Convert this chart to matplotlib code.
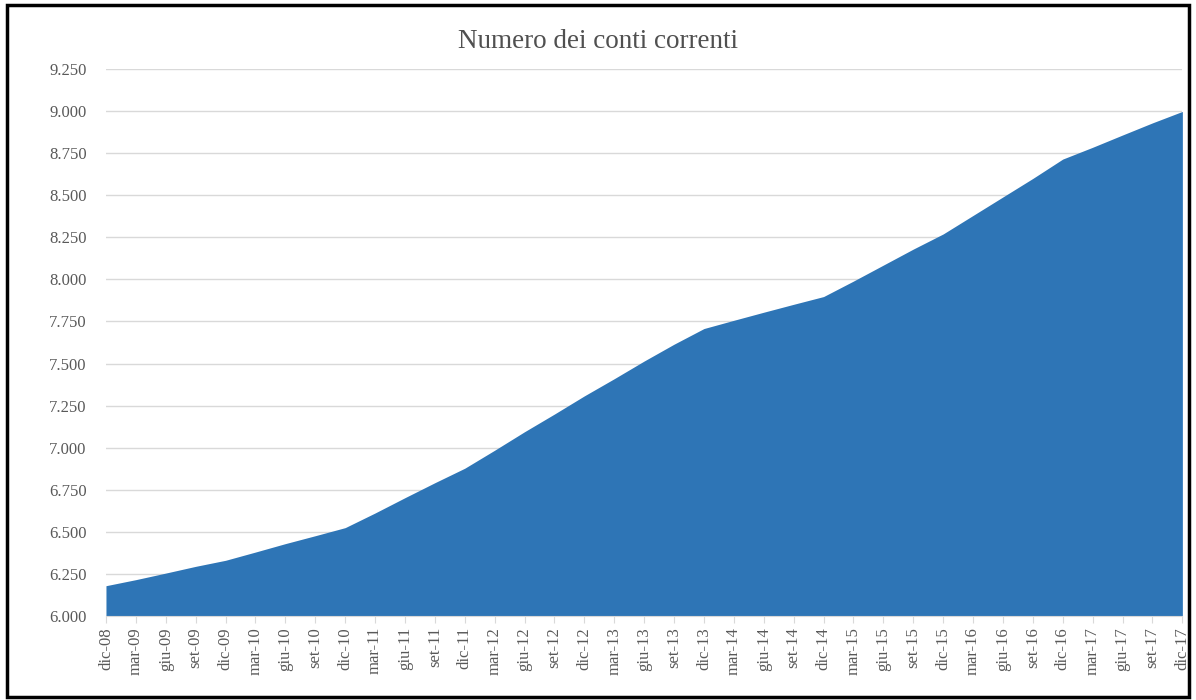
import matplotlib
matplotlib.use("Agg")
import matplotlib.pyplot as plt
from matplotlib.patches import Rectangle
from matplotlib.ticker import FuncFormatter, MultipleLocator

# Quarterly labels dic-08 ... dic-17
quarters = ["dic-08", "mar-09", "giu-09", "set-09", "dic-09", "mar-10", "giu-10", "set-10",
            "dic-10", "mar-11", "giu-11", "set-11", "dic-11", "mar-12", "giu-12", "set-12",
            "dic-12", "mar-13", "giu-13", "set-13", "dic-13", "mar-14", "giu-14", "set-14",
            "dic-14", "mar-15", "giu-15", "set-15", "dic-15", "mar-16", "giu-16", "set-16",
            "dic-16", "mar-17", "giu-17", "set-17", "dic-17"]

# Number of current accounts (thousands)
conti = [6180, 6216, 6255, 6295, 6331, 6380, 6430, 6477,
         6525, 6612, 6703, 6792, 6878, 6985, 7095, 7200,
         7308, 7410, 7515, 7615, 7708, 7757, 7805, 7852,
         7898, 7990, 8085, 8180, 8270, 8380, 8490, 8600,
         8715, 8785, 8858, 8930, 8998]

title = "Numero dei conti correnti"

plt.rcParams['font.family'] = ['Liberation Serif', 'DejaVu Serif']

fig = plt.figure(figsize=(11.96, 7.0), dpi=100)
ax = fig.add_axes([0.0886, 0.12, 0.9, 0.7814])

x = list(range(len(quarters)))
ax.fill_between(x, 6000, conti, color="#2E75B6", linewidth=0)

ax.set_xlim(0, len(quarters) - 1)
ax.set_ylim(6000, 9250)
ax.yaxis.set_major_locator(MultipleLocator(250))
ax.yaxis.set_major_formatter(FuncFormatter(lambda v, p: f"{int(v):,}".replace(",", ".")))
ax.set_xticks(x)
ax.set_xticklabels(quarters, rotation=90)

ax.grid(axis="y", color="#D9D9D9", linewidth=1)
ax.set_axisbelow(True)
for s in ["top", "right", "left"]:
    ax.spines[s].set_visible(False)
ax.spines["bottom"].set_color("#D9D9D9")
ax.tick_params(axis="y", length=0, pad=14, labelsize=12, labelcolor="#595959")
ax.tick_params(axis="x", length=5, color="#D9D9D9", pad=3, labelsize=12, labelcolor="#595959")

fig.text(0.5, 0.94, title, ha="center", va="center", fontsize=19.5, color="#505050")

# outer frame
fig.patches.append(Rectangle((0.006, 0.004), 0.988, 0.989, transform=fig.transFigure,
                             fill=False, edgecolor="black", linewidth=2.5))

fig.savefig("out.png", dpi=100)
